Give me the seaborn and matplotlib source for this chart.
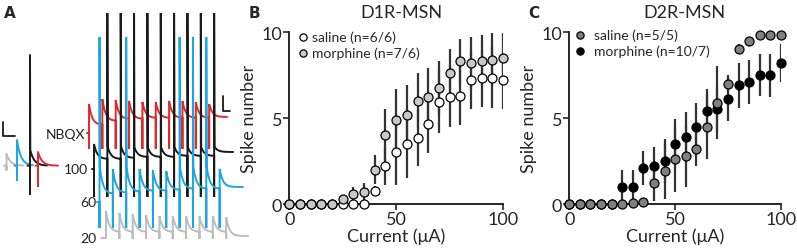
import numpy as np
import pandas as pd
import matplotlib.pyplot as plt
import seaborn as sns

# ---- data: spike number vs injected current ----
current = [0, 5, 10, 15, 20, 25, 30, 35, 40, 45, 50, 55, 60, 65, 70, 75, 80, 85, 90, 95, 100]

d1_saline = [0, 0, 0, 0, 0, 0, 0, 0, 0.75, 2.2, 3.0, 3.5, 3.85, 4.65, 5.95, 6.25, 6.3, 7.2, 7.3, 7.35, 7.2]
d1_saline_sem = [0, 0, 0, 0, 0, 0, 0, 0, 0.3, 1.1, 1.9, 2.0, 1.65, 1.7, 1.85, 1.75, 1.7, 1.7, 1.65, 1.75, 1.7]
d1_morph = [0, 0, 0, 0, 0, 0.3, 0.6, 0.7, 2.0, 4.0, 4.9, 5.2, 6.0, 6.2, 6.75, 7.6, 8.3, 8.2, 8.3, 8.4, 8.5]
d1_morph_sem = [0, 0, 0, 0, 0, 0, 0.4, 0.5, 0.85, 1.5, 1.8, 1.7, 1.6, 1.7, 1.55, 1.4, 1.3, 1.5, 1.5, 1.55, 1.45]

d2_saline = [0, 0, 0, 0, 0, 0, 0.05, 0.1, 1.2, 1.9, 2.6, 2.8, 3.2, 4.5, 5.9, 7.0, 9.0, 9.5, 9.8, 9.8, 9.8]
d2_saline_sem = [0, 0, 0, 0, 0, 0, 0, 0, 1.0, 1.6, 1.9, 1.8, 1.0, 1.9, 2.1, 0.5, 0.3, 0.2, 0.1, 0.1, 0.1]
d2_morph = [0, 0, 0, 0, 0, 1.0, 1.0, 2.1, 2.2, 2.5, 3.5, 3.9, 4.5, 5.4, 5.5, 6.1, 6.9, 7.1, 7.5, 7.5, 8.2]
d2_morph_sem = [0, 0, 0, 0, 0, 1.0, 1.0, 1.0, 1.1, 1.3, 1.45, 1.45, 1.4, 1.3, 1.3, 1.3, 1.3, 1.3, 1.2, 1.25, 1.1]

# ---- panel A traces (pixel coords of the sketch, y grows downward) ----
ISI = 13.35
trace_labels = ['NBQX', '100', '60', '20']
trace_colors = ['#e0292b', '#1a1a1a', '#1ba6e0', '#bdbdbd']
trace_start = [(87, 134), (92, 170), (97, 203), (101.5, 239)]
first_stim = [89, 94, 99.5, 106]
epsp_peaks = [
    [105, 100, 101, 102, 103, 103, 102, 102, 103, 105],
    [145, 146, 146, 147, 147, 147, 147, 147, 147, 147],
    [165, 170, 165, 170, 171, 172, 165, 165, 165, 170],
    [212, 214, 215, 216, 217, 217, 217, 217, 217, 218],
]
epsp_floors = [
    [126, 122, 120, 120, 119, 119, 119, 119, 119],
    [160, 160, 159, 158, 158, 158, 157, 157, 157],
    [195, 194, 193, 192, 192, 191, 190, 190, 190],
    [233, 233, 233, 233, 233, 233, 233, 233, 233],
]
spike_idx = [[], [1, 2, 3, 4, 5, 6, 7, 8, 9], [0, 2, 6, 7, 8], []]
spike_top = [None, 14, 38, None]
artifact = [150, 198, 229, 240]
trace_end = [(227, 118), (233, 153), (243, 188), (248, 237)]

# single-sweep examples on the left
single_colors = ['#bdbdbd', '#1ba6e0', '#1a1a1a', '#e0292b']
single_stim = [6.5, 17, 30, 38]
single_peak = [155, 141, 150, 153]
single_art = [171, 181, 195, 187]
single_spike = [None, None, 56, None]
single_end = [23, 33, 47, 58]


def draw_trace(ax, x0, base, t0, peaks, floors, spikes, top, art, end, color, tau=3.2):
    xs, ys = [x0, t0], [base, base]
    n = len(peaks)
    for k in range(n):
        t = t0 + ISI * k
        if k in spikes:
            xs += [t, t, t + 0.3]
            ys += [art, top, peaks[k]]
        else:
            xs += [t, t]
            ys += [art, peaks[k]]
        t_next = t0 + ISI * (k + 1) if k + 1 < n else end[0]
        floor = floors[k] if k + 1 < n else end[1]
        seg = np.linspace(t + 0.4, t_next, 30)
        v = floor + (peaks[k] - floor) * np.exp(-(seg - t) / tau)
        xs += list(seg)
        ys += list(v)
    ax.plot(xs, ys, color=color, lw=1.4, solid_joinstyle='miter')


sns.set_style('ticks')
plt.rcParams['font.family'] = ['Lato', 'DejaVu Sans']

W, H = 797, 251
fig = plt.figure(figsize=(W / 100, H / 100), dpi=100)


def fx(px):
    return px / W


def fy(py):
    return 1 - py / H


# ---------- panel A ----------
axA = fig.add_axes([0, 0, 250 / W, 1])
axA.set_xlim(0, 250)
axA.set_ylim(H, 0)
axA.axis('off')

for i in range(4):
    draw_trace(axA, trace_start[i][0], trace_start[i][1], first_stim[i], epsp_peaks[i],
               epsp_floors[i], spike_idx[i], spike_top[i], artifact[i], trace_end[i],
               trace_colors[i])

label_pos = [(85, 135), (88, 170), (96, 203), (96, 239)]
for lab, (lx, ly) in zip(trace_labels, label_pos):
    axA.text(lx, ly, lab, ha='right', va='center', fontsize=10, color='#222222')

base0 = 166.7
for c, t, pk, a, sp, e in zip(single_colors, single_stim, single_peak, single_art, single_spike, single_end):
    xs = [t - 2.5, t, t]
    ys = [base0, base0, a]
    if sp is not None:
        xs += [t, t + 0.3]
        ys += [sp, pk]
    else:
        xs += [t]
        ys += [pk]
    seg = np.linspace(t + 0.4, e, 30)
    v = base0 + (pk - base0) * np.exp(-(seg - t) / 4.0)
    axA.plot(xs + list(seg), ys + list(v), color=c, lw=1.4)

# scale bars
axA.plot([222.7, 222.7, 230], [96.7, 111.7, 111.7], color='#1a1a1a', lw=1.3)
axA.plot([3.3, 3.3, 15], [123.3, 136.7, 136.7], color='#1a1a1a', lw=1.3)


# ---------- panels B and C ----------
def spike_panel(rect, sal, sal_sem, mor, mor_sem, colors, labels, order, leg_x, leg_y, txt_x):
    ax = fig.add_axes(rect)
    df = pd.DataFrame({
        'current': current * 2,
        'spikes': sal + mor,
        'sem': sal_sem + mor_sem,
        'group': [labels[0]] * len(current) + [labels[1]] * len(current),
    })
    for _, r in df[df['sem'] > 0].iterrows():
        ax.vlines(r['current'], r['spikes'] - r['sem'], r['spikes'] + r['sem'],
                  color='#333333', lw=1.6, zorder=1)
    for g in order:
        sns.scatterplot(data=df[df['group'] == g], x='current', y='spikes', color=colors[g],
                        edgecolor='black', linewidth=0.9, s=42, ax=ax, zorder=3,
                        clip_on=False, legend=False)
    ax.set_xlim(0, 100)
    ax.set_ylim(0, 10)
    ax.set_xticks([0, 50, 100])
    ax.set_yticks([0, 5, 10])
    ax.tick_params(labelsize=13, length=4, width=1.2, pad=1)
    for s in ['left', 'bottom']:
        ax.spines[s].set_linewidth(1.4)
    sns.despine(ax=ax)
    ax.set_xlabel('Current (\u03bcA)', fontsize=13, labelpad=0)
    ax.set_ylabel('Spike number', fontsize=13, labelpad=3)
    # legend drawn by hand so the tight row spacing of the original is kept
    for lab, ly in zip(labels, leg_y):
        ax.plot([fx(leg_x)], [fy(ly)], marker='o', ls='', markersize=5.2,
                markerfacecolor=colors[lab], markeredgecolor='black', markeredgewidth=0.9,
                transform=fig.transFigure, clip_on=False)
        ax.text(fx(txt_x), fy(ly), lab, transform=fig.transFigure, ha='left', va='center',
                fontsize=10)
    return ax


labB = ['saline (n=6/6)', 'morphine (n=7/6)']
axB = spike_panel([289.3 / W, 1 - 205 / H, (503 - 289.3) / W, (205 - 33) / H],
                  d1_saline, d1_saline_sem, d1_morph, d1_morph_sem,
                  {labB[0]: 'white', labB[1]: '#c8c8c8'}, labB, labB,
                  303.3, [38.0, 54.0], 312)
labC = ['saline (n=5/5)', 'morphine (n=10/7)']
axC = spike_panel([569.3 / W, 1 - 205 / H, (781 - 569.3) / W, (205 - 33) / H],
                  d2_saline, d2_saline_sem, d2_morph, d2_morph_sem,
                  {labC[0]: '#808080', labC[1]: 'black'}, labC, labC[::-1],
                  580, [36.0, 52.0], 594)

fig.text(fx(401.7), fy(13), 'D1R-MSN', ha='center', va='center', fontsize=13)
fig.text(fx(684), fy(13), 'D2R-MSN', ha='center', va='center', fontsize=13)
for lab, x in [('A', 10), ('B', 254), ('C', 534)]:
    fig.text(fx(x), fy(13), lab, ha='center', va='center', fontsize=11, fontweight='bold',
             family=['DejaVu Sans'])

fig.savefig('out.png', dpi=100)
